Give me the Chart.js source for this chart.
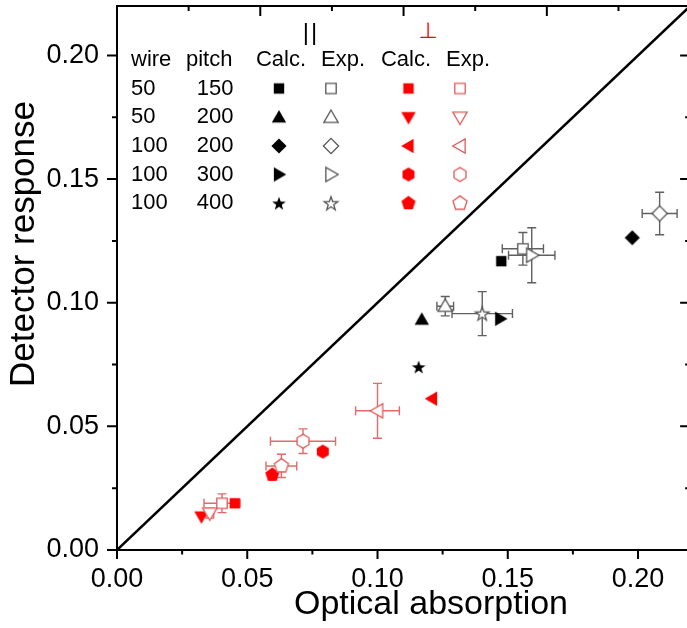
<!DOCTYPE html>
<html><head><meta charset="utf-8">
<script src="https://cdn.jsdelivr.net/npm/chart.js@4.4.0/dist/chart.umd.min.js"></script>
<style>html,body{margin:0;padding:0;overflow:hidden;background:#fff}canvas{display:block}</style>
</head><body><canvas id="c" width="687" height="628"></canvas>
<script>
// ---- data ----
const wires = [50, 50, 100, 100, 100];
const pitches = [150, 200, 200, 300, 400];
const parShapes = ['square', 'triUp', 'diamond', 'triRight', 'star'];
const perpShapes = ['square', 'triDown', 'triLeft', 'hexagon', 'pentagon'];

const parCalcX = [0.1475, 0.1170, 0.1978, 0.1471, 0.1158];
const parCalcY = [0.1168, 0.0932, 0.1263, 0.0935, 0.0740];
const parExpX = [0.1558, 0.1260, 0.2083, 0.1592, 0.1402];
const parExpY = [0.1218, 0.0986, 0.1361, 0.1192, 0.0956];
const parExpErrX = [0.0079, 0.0032, 0.0067, 0.0089, 0.0116];
const parExpErrY = [0.0066, 0.0039, 0.0086, 0.0111, 0.0089];

const perpCalcX = [0.0452, 0.0324, 0.1209, 0.0790, 0.0596];
const perpCalcY = [0.0189, 0.0135, 0.0612, 0.0398, 0.0304];
const perpExpX = [0.0403, 0.0356, 0.1000, 0.0714, 0.0631];
const perpExpY = [0.0189, 0.0149, 0.0563, 0.0440, 0.0340];
const perpExpErrX = [0.0069, 0.0015, 0.0084, 0.0125, 0.0059];
const perpExpErrY = [0.0038, 0.0020, 0.0111, 0.0050, 0.0047];

const diagX = [0, 0.22];
const diagY = [0, 0.22];

// axis ranges (the frame's right edge, at 0.22, lies just outside the picture)
const xMin = 0, xVisibleMax = 0.2188, xFrameMax = 0.22;
const yMin = 0, yMax = 0.22;

const xTicks = [0, 0.05, 0.10, 0.15, 0.20];
const yTicks = [0, 0.05, 0.10, 0.15, 0.20];
const xMinorTicks = [0.025, 0.075, 0.125, 0.175];
const yMinorTicks = [0.025, 0.075, 0.125, 0.175];
const topTicks = [0, 0.0275, 0.055, 0.0825, 0.11, 0.1375, 0.165, 0.1925, 0.22];

const xTitle = 'Optical absorption';
const yTitle = 'Detector response';

// ---- styles ----
const BLACK = '#000000';
const GRAY = '#555555';
const RED = '#ff0000';
const LRED = '#e05a5a';
const ERR_GRAY = '#606060';
const ERR_RED = '#e36a6a';

function makeMarker(shape, fill, stroke) {
  const c = document.createElement('canvas');
  c.width = 24; c.height = 24;
  const g = c.getContext('2d');
  g.translate(12, 12);
  g.beginPath();
  const poly = (n, r, rot) => {
    for (let i = 0; i < n; i++) {
      const a = rot + i * 2 * Math.PI / n;
      const px = r * Math.sin(a), py = -r * Math.cos(a);
      if (i === 0) g.moveTo(px, py); else g.lineTo(px, py);
    }
    g.closePath();
  };
  const tri = (rot) => {
    const r = 8.3;
    g.save(); g.rotate(rot); g.translate(0, 1.0);
    g.moveTo(0, -r); g.lineTo(r * 0.866, r / 2); g.lineTo(-r * 0.866, r / 2); g.closePath();
    g.restore();
  };
  switch (shape) {
    case 'square': g.rect(-5.2, -5.2, 10.4, 10.4); break;
    case 'diamond': poly(4, 7.6, 0); break;
    case 'triUp': tri(0); break;
    case 'triDown': tri(Math.PI); break;
    case 'triRight': tri(Math.PI / 2); break;
    case 'triLeft': tri(-Math.PI / 2); break;
    case 'hexagon': poly(6, 6.9, 0); break;
    case 'pentagon': poly(5, 7.4, 0); break;
    case 'star': {
      for (let i = 0; i < 10; i++) {
        const r = i % 2 === 0 ? 7.2 : 2.9;
        const a = i * Math.PI / 5;
        const px = r * Math.sin(a), py = -r * Math.cos(a) + 0.6;
        if (i === 0) g.moveTo(px, py); else g.lineTo(px, py);
      }
      g.closePath();
      break;
    }
  }
  if (fill) { g.fillStyle = fill; g.fill(); }
  if (stroke) { g.lineWidth = 1.3; g.strokeStyle = stroke; g.stroke(); }
  return c;
}

const parCalcImg = parShapes.map(s => makeMarker(s, BLACK, null));
const parExpImg = parShapes.map(s => makeMarker(s, '#ffffff', GRAY));
const perpCalcImg = perpShapes.map(s => makeMarker(s, RED, null));
const perpExpImg = perpShapes.map(s => makeMarker(s, '#ffffff', LRED));

const pts = (xs, ys) => xs.map((x, i) => ({ x: x, y: ys[i] }));

const FONT = "'Liberation Sans', Arial, sans-serif";

// ---- plugins ----
const errorBars = {
  id: 'errorBars',
  beforeDatasetsDraw(chart) {
    const { ctx, scales: { x, y } } = chart;
    const draw = (xs, ys, ex, ey, color) => {
      ctx.save();
      ctx.strokeStyle = color; ctx.lineWidth = 1.4;
      xs.forEach((xv, i) => {
        const cx = x.getPixelForValue(xv), cy = y.getPixelForValue(ys[i]);
        const x1 = x.getPixelForValue(xv - ex[i]), x2 = x.getPixelForValue(xv + ex[i]);
        const y1 = y.getPixelForValue(ys[i] - ey[i]), y2 = y.getPixelForValue(ys[i] + ey[i]);
        const cap = 4.5;
        ctx.beginPath();
        ctx.moveTo(x1, cy); ctx.lineTo(x2, cy);
        ctx.moveTo(x1, cy - cap); ctx.lineTo(x1, cy + cap);
        ctx.moveTo(x2, cy - cap); ctx.lineTo(x2, cy + cap);
        ctx.moveTo(cx, y1); ctx.lineTo(cx, y2);
        ctx.moveTo(cx - cap, y1); ctx.lineTo(cx + cap, y1);
        ctx.moveTo(cx - cap, y2); ctx.lineTo(cx + cap, y2);
        ctx.stroke();
      });
      ctx.restore();
    };
    draw(parExpX, parExpY, parExpErrX, parExpErrY, ERR_GRAY);
    draw(perpExpX, perpExpY, perpExpErrX, perpExpErrY, ERR_RED);
  }
};

const frame = {
  id: 'frame',
  afterDraw(chart) {
    const { ctx, chartArea: a, scales: { x, y } } = chart;
    const L = x.getPixelForValue(xMin), R = x.getPixelForValue(xFrameMax);
    const T = y.getPixelForValue(yMax), B = y.getPixelForValue(yMin);
    ctx.save();
    ctx.strokeStyle = '#000'; ctx.lineWidth = 2;
    ctx.strokeRect(L, T, R - L, B - T);
    ctx.beginPath();
    yTicks.forEach(v => { const p = y.getPixelForValue(v);
      ctx.moveTo(L - 10, p); ctx.lineTo(L, p);
      ctx.moveTo(R - 10, p); ctx.lineTo(R, p); });
    yMinorTicks.forEach(v => { const p = y.getPixelForValue(v);
      ctx.moveTo(L - 5, p); ctx.lineTo(L, p);
      ctx.moveTo(R - 5, p); ctx.lineTo(R, p); });
    xTicks.forEach(v => { const p = x.getPixelForValue(v);
      ctx.moveTo(p, B); ctx.lineTo(p, B + 9); });
    xMinorTicks.forEach(v => { const p = x.getPixelForValue(v);
      ctx.moveTo(p, B); ctx.lineTo(p, B + 4.5); });
    topTicks.forEach((v, i) => { const p = x.getPixelForValue(v);
      ctx.moveTo(p, T); ctx.lineTo(p, T + (i % 2 === 0 ? 10 : 5)); });
    ctx.stroke();

    // axis titles
    ctx.fillStyle = '#000';
    ctx.textAlign = 'center'; ctx.textBaseline = 'middle';
    ctx.font = '34px ' + FONT;
    ctx.fillText(xTitle, 431, 605);
    ctx.save();
    ctx.translate(24, 244); ctx.rotate(-Math.PI / 2);
    ctx.font = '35px ' + FONT;
    ctx.fillText(yTitle, 0, 0);
    ctx.restore();

    // legend table
    ctx.textBaseline = 'middle';
    ctx.textAlign = 'center';
    ctx.fillStyle = '#000';
    ctx.letterSpacing = '2px';
    ctx.font = '24px ' + FONT;
    ctx.fillText('||', 311, 33);
    ctx.letterSpacing = '0px';
    ctx.fillStyle = RED;
    ctx.font = "22px 'DejaVu Sans', sans-serif";
    ctx.fillText('\u22A5', 428, 32);
    ctx.font = '22px ' + FONT;
    ctx.fillStyle = '#000';
    ctx.textAlign = 'left';
    ctx.fillText('wire', 131, 60);
    ctx.fillText('pitch', 186, 60);
    ctx.textAlign = 'center';
    ctx.fillText('Calc.', 281, 60);
    ctx.fillText('Exp.', 343, 60);
    ctx.fillText('Calc.', 406, 60);
    ctx.fillText('Exp.', 468, 60);
    const rowY = [88.5, 117.3, 146, 174.5, 203.3];
    wires.forEach((w, i) => {
      ctx.textAlign = 'left'; ctx.fillText(String(w), 131, rowY[i]);
      ctx.textAlign = 'right'; ctx.fillText(String(pitches[i]), 233.5, rowY[i]);
      ctx.drawImage(parCalcImg[i], 279 - 12, rowY[i] - 12);
      ctx.drawImage(parExpImg[i], 331 - 12, rowY[i] - 12);
      ctx.drawImage(perpCalcImg[i], 408.5 - 12, rowY[i] - 12);
      ctx.drawImage(perpExpImg[i], 460 - 12, rowY[i] - 12);
    });
    ctx.restore();
  }
};

const tickFont = { family: FONT, size: 27 };
const noPad = s => { s.paddingTop = 0; s.paddingBottom = 0; s.paddingLeft = 0; s.paddingRight = 0; };

new Chart(document.getElementById('c'), {
  type: 'scatter',
  data: {
    datasets: [
      { label: 'diag', data: pts(diagX, diagY), showLine: true, borderColor: '#000', borderWidth: 2.5,
        pointRadius: 0, fill: false },
      { label: '|| Exp.', data: pts(parExpX, parExpY), pointStyle: parExpImg, pointRadius: 6 },
      { label: '⊥ Exp.', data: pts(perpExpX, perpExpY), pointStyle: perpExpImg, pointRadius: 6 },
      { label: '|| Calc.', data: pts(parCalcX, parCalcY), pointStyle: parCalcImg, pointRadius: 6 },
      { label: '⊥ Calc.', data: pts(perpCalcX, perpCalcY), pointStyle: perpCalcImg, pointRadius: 6 }
    ]
  },
  options: {
    responsive: false,
    animation: false,
    events: [],
    layout: { autoPadding: false, padding: { top: 6, right: 0, left: 0, bottom: 0 } },
    plugins: { legend: { display: false }, tooltip: { enabled: false } },
    scales: {
      x: {
        type: 'linear', position: 'bottom', min: xMin, max: xVisibleMax,
        afterBuildTicks: s => { s.ticks = xTicks.map(v => ({ value: v })); },
        ticks: { font: tickFont, color: '#000', padding: 13, maxRotation: 0, autoSkip: false,
                 callback: v => Number(v).toFixed(2) },
        grid: { display: false, drawTicks: false },
        border: { display: false },
        afterFit: s => { s.height = 78; noPad(s); }
      },
      y: {
        type: 'linear', position: 'left', min: yMin, max: yMax,
        afterBuildTicks: s => { s.ticks = yTicks.map(v => ({ value: v })); },
        ticks: { font: tickFont, color: '#000', padding: 18, autoSkip: false,
                 callback: v => Number(v).toFixed(2) },
        grid: { display: false, drawTicks: false },
        border: { display: false },
        afterFit: s => { s.width = 117; noPad(s); }
      }
    }
  },
  plugins: [errorBars, frame]
});
</script>
</body></html>
